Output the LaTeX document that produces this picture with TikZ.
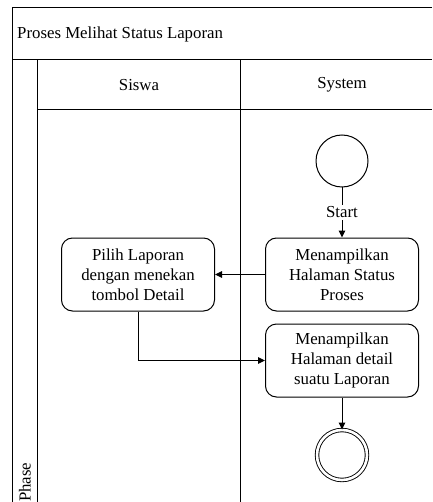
\documentclass[tikz,border=0pt]{standalone}
\usepackage{fontspec}
\setmainfont{Liberation Serif}
\usetikzlibrary{arrows.meta}
\tikzset{
  lane/.style={line width=1pt},
  actbox/.style={draw, line width=1pt, rounded corners=11pt, minimum width=153pt,
    minimum height=73pt, align=center, font=\fontsize{16.8}{20}\selectfont, inner sep=2pt},
  initnode/.style={draw, circle, line width=1pt, minimum size=52pt, inner sep=0pt},
  finalnode/.style={draw, circle, line width=0.9pt, double, double distance=2.6pt,
    minimum size=50pt, inner sep=0pt},
  flow/.style={line width=1pt, -{Triangle[length=7pt,width=6.5pt]}},
  lbl/.style={font=\fontsize{16.8}{20}\selectfont, inner sep=0pt},
}
\begin{document}
\begin{tikzpicture}[x=1pt,y=-1pt]
\useasboundingbox (0,0) rectangle (432,502);
\fill[white] (0,0) rectangle (432,502);

% pool frame, title row, header row and lane dividers
\draw[lane] (432,8) -- (12,8) -- (12,502);
\draw[lane] (12,60) -- (432,60);
\draw[lane] (37,60) -- (37,502);
\draw[lane] (37,110) -- (432,110);
\draw[lane] (240,60) -- (240,502);

\node[lbl, anchor=west] (title) at (17,34) {Proses Melihat Status Laporan};
\node[lbl] (siswa) at (139,85) {Siswa};
\node[lbl] (system) at (342,85) {System};
\node[lbl, rotate=90, anchor=west] (phase) at (25,502) {Phase};

% activity nodes
\node[initnode] (start) at (342,161) {};
\node[actbox] (s1) at (342,274.5) {Menampilkan\\Halaman Status\\Proses};
\node[actbox] (p1) at (138,274.5) {Pilih Laporan\\dengan menekan\\tombol Detail};
\node[actbox] (s2) at (342,360.5) {Menampilkan\\Halaman detail\\suatu Laporan};
\node[finalnode] (end) at (342,455) {};

% control flow
\draw[flow] (start) -- node[lbl, fill=white, inner sep=1.5pt] (startlbl) {Start} (s1);
\draw[flow] (s1) -- (p1);
\draw[flow] (p1.south) |- (s2.west);
\draw[flow] (s2) -- (end);
\end{tikzpicture}
\end{document}
